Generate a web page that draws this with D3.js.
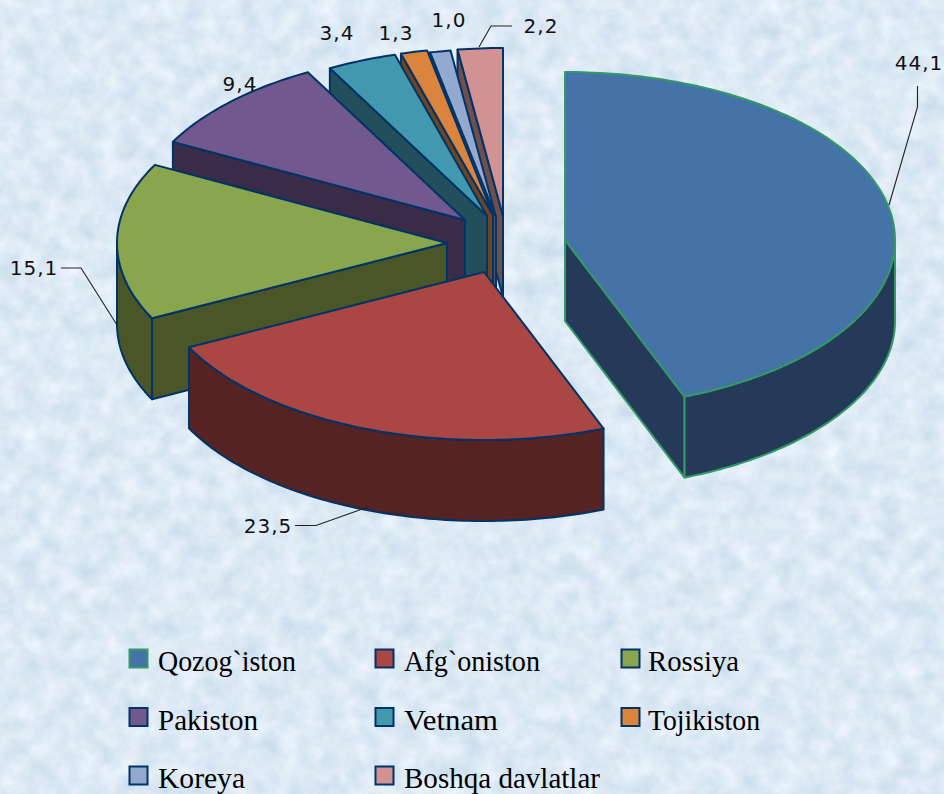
<!DOCTYPE html>
<html>
<head>
<meta charset="utf-8">
<script src="https://cdn.jsdelivr.net/npm/d3@7"></script>
<style>
  html, body { margin: 0; padding: 0; background: #deeaf5; }
  svg { display: block; }
</style>
</head>
<body>
<div id="chart"></div>
<script>
// data
var categories = ['Qozog`iston', 'Afg`oniston', 'Rossiya', 'Pakiston', 'Vetnam', 'Tojikiston', 'Koreya', 'Boshqa davlatlar']
var values = [44.1, 23.5, 15.1, 9.4, 3.4, 1.3, 1.0, 2.2]

// styles
var topColors = ['#4572a7', '#aa4643', '#89a54e', '#71588f', '#4198af', '#db843d', '#93a9cf', '#d19392']
var wallColors = ['#243a58', '#552323', '#4a5528', '#3a2b49', '#224f5b', '#704420', '#4c576b', '#6f4f4e']
var strokeColors = ['#339966', '#003366', '#003366', '#003366', '#003366', '#003366', '#003366', '#003366']

// every slice is pulled out of the pie, this is where its tip ends up
var tips = [[565, 240], [484, 272], [447, 243], [465, 220], [487, 216], [493, 215], [496, 217], [503, 216]]
// back slices first so the front ones cover them
var drawOrder = [7, 6, 5, 4, 3, 2, 1, 0]

var rx = 330, ry = 168, depth = 81
var width = 944, height = 794

var labelPos = [[919, 70], [268, 533], [34, 275], [240, 91], [337, 40], [396, 40], [449, 27], [541, 33]]
var leaders = [
  [[917.5, 86], [917.5, 107], [889, 205]],
  [[295, 525.5], [316, 525.5], [368, 507]],
  [[61, 268], [81, 268], [117, 325]],
  null, null, null, null,
  [[479, 47], [491, 26], [512, 26]]
]
var legendTextWidths = [138, 136, 91, 100, 94, 112, 87, 196]

var svg = d3.select('#chart').append('svg')
  .attr('width', width)
  .attr('height', height)

// mottled paper background
var filter = svg.append('defs').append('filter')
  .attr('id', 'paper')
  .attr('x', 0).attr('y', 0).attr('width', '100%').attr('height', '100%')
  .attr('color-interpolation-filters', 'sRGB')
filter.append('feTurbulence')
  .attr('type', 'fractalNoise')
  .attr('baseFrequency', 0.05)
  .attr('numOctaves', 4)
  .attr('seed', 7)
filter.append('feColorMatrix')
  .attr('type', 'matrix')
  .attr('values', '0.18 0 0.04 0 0.755  0.12 0.03 0.03 0 0.825  0.08 0 0.04 0 0.9  0 0 0 0 1')

svg.append('rect')
  .attr('width', width)
  .attr('height', height)
  .attr('filter', 'url(#paper)')

var pie = d3.pie().sort(null).value(function (d) { return d })
var arcs = pie(values)

var rad = d3.scaleLinear().domain([0, 360]).range([0, 2 * Math.PI])

function pt (tip, a, dy) {
  return [tip[0] + rx * Math.sin(a), tip[1] - ry * Math.cos(a) + (dy || 0)]
}

function arcPts (tip, a0, a1, dy) {
  var n = Math.max(2, Math.ceil((a1 - a0) / rad(1)))
  return d3.range(n + 1).map(function (i) {
    return pt(tip, a0 + (a1 - a0) * i / n, dy)
  })
}

var line = d3.line()
function closed (points) { return line(points) + 'Z' }

function cutWall (tip, a) {
  var p = pt(tip, a)
  return [tip, p, [p[0], p[1] + depth], [tip[0], tip[1] + depth]]
}

var slices = svg.append('g')

drawOrder.forEach(function (i) {
  var tip = tips[i], d = arcs[i]
  var g = slices.append('g')
    .attr('stroke', strokeColors[i])
    .attr('stroke-width', 2)
    .attr('stroke-linejoin', 'round')

  // cut faces, only the ones turned towards us
  if (d.startAngle >= Math.PI) {
    g.append('path').attr('d', closed(cutWall(tip, d.startAngle))).attr('fill', wallColors[i])
  }
  if (d.endAngle <= Math.PI) {
    g.append('path').attr('d', closed(cutWall(tip, d.endAngle))).attr('fill', wallColors[i])
  }

  // outer wall, front half of the ellipse
  var a0 = Math.max(d.startAngle, rad(90))
  var a1 = Math.min(d.endAngle, rad(270))
  if (a1 > a0) {
    var upper = arcPts(tip, a0, a1, 0)
    var lower = arcPts(tip, a0, a1, depth).reverse()
    g.append('path').attr('d', closed(upper.concat(lower))).attr('fill', wallColors[i])
  }

  g.append('path')
    .attr('d', closed([tip].concat(arcPts(tip, d.startAngle, d.endAngle, 0))))
    .attr('fill', topColors[i])
})

// leader lines
svg.append('g').selectAll('path')
  .data(leaders.filter(function (d) { return d }))
  .enter()
  .append('path')
  .attr('d', function (d) { return line(d) })
  .attr('fill', 'none')
  .attr('stroke', '#222')
  .attr('stroke-width', 1.1)

// value labels
svg.append('g').selectAll('text')
  .data(values)
  .enter()
  .append('text')
  .attr('x', function (d, i) { return labelPos[i][0] })
  .attr('y', function (d, i) { return labelPos[i][1] })
  .attr('text-anchor', 'middle')
  .style('font-family', '"DejaVu Sans"')
  .style('font-size', '20px')
  .style('letter-spacing', '1px')
  .style('fill', '#111')
  .text(function (d) { return d.toFixed(1).replace('.', ',') })

// legend, three columns
var legendX = d3.scalePoint().domain([0, 1, 2]).range([129, 621])
var legendY = d3.scalePoint().domain([0, 1, 2]).range([659, 776])
var legendPad = [29, 29, 27]

var legend = svg.append('g').selectAll('g')
  .data(categories)
  .enter()
  .append('g')
  .attr('transform', function (d, i) {
    return 'translate(' + legendX(i % 3) + ',' + legendY(Math.floor(i / 3)) + ')'
  })

legend.append('rect')
  .attr('x', 0.5).attr('y', -9.5)
  .attr('width', 18).attr('height', 18)
  .attr('fill', function (d, i) { return topColors[i] })
  .attr('stroke', function (d, i) { return strokeColors[i] })
  .attr('stroke-width', 2)

legend.append('text')
  .attr('x', function (d, i) { return legendPad[i % 3] })
  .attr('y', 12)
  .attr('textLength', function (d, i) { return legendTextWidths[i] })
  .attr('lengthAdjust', 'spacingAndGlyphs')
  .style('font-family', '"Liberation Serif"')
  .style('font-size', '29px')
  .style('fill', '#000')
  .text(function (d) { return d })
</script>
</body>
</html>
